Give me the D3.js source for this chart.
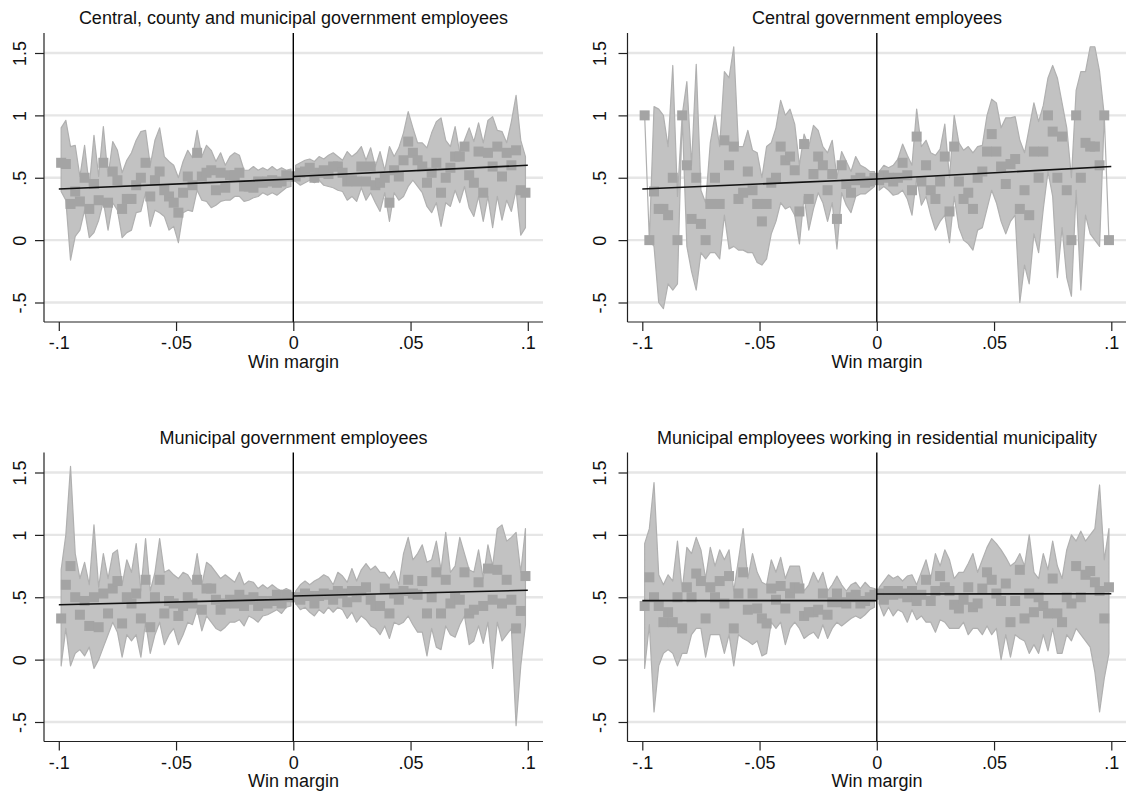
<!DOCTYPE html>
<html><head><meta charset="utf-8">
<script src="https://cdn.jsdelivr.net/npm/d3@7"></script>
<style>body{margin:0;background:#fff}svg{display:block}text{font-family:"Liberation Sans",Arial,sans-serif}</style>
</head><body><svg id="chart" width="1126" height="796"></svg>
<script>
const xTicks = [-0.1, -0.05, 0, 0.05, 0.1];
const xTickLabels = ["-.1", "-.05", "0", ".05", ".1"];
const yTicks = [-0.5, 0, 0.5, 1, 1.5];
const yTickLabels = ["-.5", "0", ".5", "1", "1.5"];
const xTitle = "Win margin";
const titles = [
  "Central, county and municipal government employees",
  "Central government employees",
  "Municipal government employees",
  "Municipal employees working in residential municipality"
];
const binsLeft = [-0.099,-0.097,-0.095,-0.093,-0.091,-0.089,-0.087,-0.085,-0.083,-0.081,-0.079,-0.077,-0.075,-0.073,-0.071,-0.069,-0.067,-0.065,-0.063,-0.061,-0.059,-0.057,-0.055,-0.053,-0.051,-0.049,-0.047,-0.045,-0.043,-0.041,-0.039,-0.037,-0.035,-0.033,-0.031,-0.029,-0.027,-0.025,-0.023,-0.021,-0.019,-0.017,-0.015,-0.013,-0.011,-0.009,-0.007,-0.005,-0.003,-0.001];
const binsRight = [0.001,0.003,0.005,0.007,0.009,0.011,0.013,0.015,0.017,0.019,0.021,0.023,0.025,0.027,0.029,0.031,0.033,0.035,0.037,0.039,0.041,0.043,0.045,0.047,0.049,0.051,0.053,0.055,0.057,0.059,0.061,0.063,0.065,0.067,0.069,0.071,0.073,0.075,0.077,0.079,0.081,0.083,0.085,0.087,0.089,0.091,0.093,0.095,0.097,0.099];
const fitXLeft = [-0.1, 0];
const fitXRight = [0, 0.1];

// Panel 1: Central, county and municipal
const p1MeanL = [0.62,0.61,0.29,0.39,0.31,0.50,0.25,0.45,0.32,0.62,0.30,0.55,0.48,0.25,0.33,0.33,0.44,0.50,0.62,0.35,0.48,0.55,0.40,0.35,0.30,0.22,0.38,0.51,0.44,0.70,0.51,0.54,0.56,0.40,0.54,0.42,0.52,0.52,0.54,0.43,0.43,0.42,0.47,0.46,0.47,0.48,0.46,0.47,0.52,0.51];
const p1HiL = [0.90,0.96,0.75,0.76,0.51,0.76,0.43,0.84,0.51,0.91,0.51,0.79,0.72,0.54,0.64,0.70,0.80,0.87,0.88,0.60,0.80,0.90,0.67,0.63,0.60,0.50,0.63,0.72,0.66,0.88,0.67,0.76,0.72,0.63,0.70,0.60,0.67,0.70,0.68,0.56,0.56,0.59,0.56,0.58,0.56,0.59,0.56,0.58,0.56,0.57];
const p1LoL = [0.39,0.32,-0.16,0.03,0.08,0.24,0.02,0.06,0.16,0.31,0.08,0.30,0.24,0.02,0.06,0.08,0.22,0.23,0.38,0.11,0.24,0.22,0.19,0.08,0.11,-0.02,0.22,0.24,0.23,0.40,0.32,0.31,0.26,0.28,0.31,0.32,0.32,0.35,0.35,0.31,0.32,0.34,0.35,0.38,0.36,0.38,0.36,0.39,0.42,0.43];
const p1MeanR = [0.51,0.54,0.55,0.58,0.50,0.54,0.56,0.53,0.59,0.59,0.54,0.47,0.48,0.47,0.59,0.47,0.59,0.44,0.46,0.50,0.30,0.56,0.51,0.64,0.79,0.70,0.64,0.59,0.46,0.54,0.62,0.38,0.50,0.58,0.67,0.67,0.75,0.52,0.46,0.71,0.38,0.70,0.59,0.75,0.51,0.70,0.60,0.72,0.40,0.38];
const p1HiR = [0.60,0.62,0.64,0.65,0.63,0.67,0.65,0.68,0.70,0.67,0.64,0.71,0.67,0.70,0.75,0.64,0.74,0.59,0.71,0.56,0.75,0.67,0.74,0.86,1.03,0.90,0.78,0.78,0.74,0.86,0.95,0.98,0.80,0.75,0.91,0.70,0.80,0.90,0.79,0.94,0.78,0.96,0.99,0.88,0.87,0.78,0.95,1.16,0.80,0.67];
const p1LoR = [0.47,0.44,0.46,0.48,0.46,0.48,0.44,0.43,0.42,0.40,0.39,0.32,0.35,0.31,0.42,0.32,0.38,0.30,0.23,0.38,0.15,0.38,0.32,0.35,0.43,0.48,0.43,0.38,0.27,0.22,0.30,0.11,0.30,0.27,0.40,0.30,0.43,0.26,0.19,0.35,0.15,0.35,0.10,0.35,0.16,0.32,0.23,0.40,0.04,0.10];
const p1FitL = [0.41, 0.49];
const p1FitR = [0.51, 0.60];

// Panel 2: Central government
const p2MeanL = [1.00,0.00,0.39,0.25,0.25,0.20,0.50,0.00,1.00,0.60,0.17,0.50,0.13,0.00,0.29,0.50,0.29,0.80,0.60,0.75,0.33,0.38,0.55,0.40,0.29,0.15,0.29,0.46,0.50,0.75,0.64,0.67,0.56,0.23,0.77,0.33,0.53,0.67,0.60,0.40,0.53,0.17,0.60,0.45,0.38,0.48,0.50,0.46,0.47,0.50];
const p2HiL = [1.00,0.00,1.07,1.05,1.00,0.75,1.40,0.35,1.00,1.27,0.60,1.41,0.40,0.30,0.78,1.00,0.75,1.35,1.30,1.55,0.75,0.75,0.88,0.72,0.70,0.50,0.75,0.78,0.90,1.12,1.00,1.05,0.93,0.60,0.85,0.75,0.92,0.88,0.75,0.70,0.80,0.50,0.71,0.63,0.55,0.67,0.60,0.58,0.55,0.55];
const p2LoL = [1.00,0.00,-0.05,-0.50,-0.55,-0.35,-0.40,-0.35,1.00,-0.05,-0.25,-0.40,-0.10,-0.15,-0.10,-0.10,-0.15,0.20,-0.07,-0.05,-0.08,-0.08,-0.10,-0.10,-0.18,-0.20,-0.15,0.05,0.15,0.30,0.25,0.27,0.20,-0.03,0.35,0.08,0.25,0.38,0.30,0.15,0.30,-0.07,0.38,0.28,0.22,0.35,0.37,0.37,0.40,0.43];
const p2MeanR = [0.48,0.52,0.50,0.47,0.50,0.62,0.52,0.40,0.83,0.47,0.60,0.40,0.33,0.47,0.67,0.23,0.75,0.47,0.33,0.38,0.25,0.50,0.55,0.71,0.85,0.71,0.59,0.45,0.61,0.65,0.25,0.40,0.20,0.71,0.50,0.71,1.00,0.87,0.50,0.83,0.40,0.00,1.00,0.50,0.78,0.75,0.75,0.60,1.00,0.00];
const p2HiR = [0.55,0.60,0.58,0.60,0.65,0.77,0.68,0.60,1.05,0.75,0.80,0.70,0.68,0.73,0.93,0.50,1.00,0.78,0.72,0.75,0.70,0.75,0.76,1.00,1.13,1.10,0.90,0.98,0.98,0.99,0.80,0.70,0.90,1.10,0.95,1.08,1.30,1.40,1.30,1.10,0.90,0.50,1.20,1.35,1.35,1.55,1.55,1.35,1.00,0.00];
const p2LoR = [0.40,0.43,0.40,0.36,0.37,0.40,0.33,0.20,0.50,0.28,0.35,0.20,0.08,0.15,0.20,-0.02,0.35,0.10,0.00,-0.03,-0.08,0.08,0.10,0.25,0.40,0.30,0.15,0.05,0.15,0.20,-0.50,-0.20,-0.35,0.05,-0.10,0.25,0.55,0.35,-0.30,0.10,-0.30,-0.45,0.40,-0.40,0.20,0.05,0.00,-0.05,1.00,0.00];
const p2FitL = [0.41, 0.49];
const p2FitR = [0.49, 0.59];

// Panel 3: Municipal government
const p3MeanL = [0.33,0.60,0.75,0.50,0.36,0.47,0.27,0.50,0.26,0.53,0.37,0.57,0.63,0.29,0.50,0.45,0.53,0.33,0.64,0.26,0.50,0.64,0.37,0.47,0.45,0.35,0.43,0.50,0.45,0.64,0.40,0.57,0.57,0.48,0.40,0.45,0.48,0.45,0.52,0.43,0.48,0.50,0.43,0.47,0.45,0.47,0.52,0.45,0.52,0.50];
const p3HiL = [0.72,1.00,1.55,0.85,0.65,0.78,0.60,1.08,0.58,0.85,0.65,0.85,0.88,0.60,0.80,0.70,0.93,0.55,0.97,0.55,0.70,0.97,0.70,0.72,0.68,0.65,0.70,0.68,0.62,0.85,0.60,0.78,0.75,0.70,0.65,0.68,0.65,0.62,0.70,0.60,0.63,0.62,0.57,0.60,0.57,0.60,0.57,0.55,0.57,0.55];
const p3LoL = [-0.05,0.25,-0.05,0.05,0.08,0.03,0.10,-0.07,0.00,0.10,0.20,0.30,0.22,0.02,0.20,0.15,0.20,0.02,0.30,0.05,0.20,0.30,0.12,0.20,0.25,0.12,0.20,0.30,0.28,0.40,0.23,0.35,0.30,0.25,0.23,0.26,0.30,0.30,0.32,0.27,0.35,0.33,0.30,0.35,0.36,0.38,0.40,0.37,0.42,0.43];
const p3MeanR = [0.50,0.48,0.53,0.51,0.45,0.51,0.53,0.52,0.48,0.55,0.53,0.46,0.55,0.50,0.55,0.58,0.48,0.43,0.43,0.57,0.37,0.53,0.48,0.55,0.64,0.53,0.52,0.63,0.37,0.50,0.70,0.37,0.64,0.45,0.50,0.48,0.70,0.37,0.40,0.62,0.43,0.73,0.48,0.72,0.45,0.64,0.48,0.25,0.39,0.67];
const p3HiR = [0.55,0.60,0.63,0.60,0.63,0.65,0.68,0.66,0.60,0.70,0.67,0.62,0.73,0.63,0.72,0.77,0.72,0.75,0.70,0.70,0.65,0.71,0.60,0.85,0.98,0.80,0.85,0.92,0.78,0.80,0.95,0.72,1.02,0.70,0.75,0.98,0.85,0.72,0.70,0.88,0.65,0.92,0.75,1.05,1.08,0.95,0.98,1.02,0.70,1.05];
const p3LoR = [0.45,0.40,0.42,0.38,0.35,0.40,0.37,0.42,0.38,0.42,0.40,0.33,0.38,0.30,0.35,0.32,0.27,0.25,0.20,0.27,0.17,0.30,0.28,0.30,0.35,0.28,0.22,0.22,0.03,0.25,0.10,0.08,0.27,0.20,0.18,0.28,0.35,0.12,0.15,0.27,0.13,0.30,-0.07,0.30,0.15,0.20,0.25,-0.53,-0.05,0.28];
const p3FitL = [0.44, 0.484];
const p3FitR = [0.51, 0.556];

// Panel 4: Municipal employees in residential municipality
const p4MeanL = [0.43,0.66,0.50,0.43,0.30,0.38,0.30,0.50,0.25,0.58,0.50,0.69,0.63,0.33,0.58,0.50,0.63,0.45,0.67,0.25,0.53,0.70,0.40,0.53,0.41,0.33,0.29,0.57,0.48,0.59,0.41,0.53,0.58,0.57,0.35,0.38,0.38,0.40,0.53,0.36,0.46,0.53,0.46,0.45,0.50,0.52,0.45,0.47,0.50,0.52];
const p4HiL = [0.93,1.05,1.42,0.68,0.60,0.68,0.63,0.95,0.55,0.90,0.85,0.98,0.88,0.65,0.90,0.75,0.88,0.80,0.88,0.55,0.80,1.05,0.65,0.85,0.70,0.62,0.60,0.80,0.70,0.82,0.65,0.75,0.75,0.75,0.55,0.60,0.70,0.62,0.70,0.55,0.60,0.67,0.60,0.55,0.60,0.62,0.57,0.62,0.58,0.57];
const p4LoL = [-0.07,0.28,-0.42,-0.05,0.05,0.08,0.05,-0.05,0.05,0.05,0.20,0.25,0.25,0.02,0.20,0.20,0.20,0.05,0.20,-0.05,0.20,0.17,0.15,0.12,0.15,0.03,0.05,0.30,0.25,0.30,0.12,0.25,0.30,0.25,0.17,0.20,0.22,0.17,0.28,0.17,0.25,0.30,0.27,0.30,0.33,0.35,0.33,0.36,0.40,0.42];
const p4MeanR = [0.53,0.48,0.55,0.52,0.55,0.53,0.50,0.55,0.47,0.52,0.64,0.47,0.55,0.67,0.58,0.55,0.44,0.41,0.48,0.58,0.42,0.45,0.57,0.70,0.64,0.53,0.47,0.61,0.30,0.47,0.72,0.33,0.53,0.38,0.50,0.43,0.37,0.65,0.37,0.30,0.50,0.45,0.75,0.50,0.68,0.71,0.62,0.55,0.33,0.58];
const p4HiR = [0.58,0.63,0.68,0.65,0.67,0.63,0.67,0.68,0.60,0.70,0.80,0.65,0.85,0.75,0.88,0.80,0.65,0.70,0.70,0.77,0.85,0.70,0.80,0.90,0.97,0.93,0.88,0.82,0.75,0.78,0.85,0.75,1.00,0.70,0.65,0.85,0.72,0.95,0.75,0.65,0.88,1.00,0.95,1.03,0.95,1.00,1.05,1.40,0.80,1.05];
const p4LoR = [0.45,0.35,0.42,0.35,0.40,0.38,0.30,0.40,0.32,0.35,0.30,0.30,0.22,0.32,0.30,0.25,0.25,0.25,0.30,0.20,0.25,0.25,0.20,0.27,0.20,0.25,0.00,0.20,0.02,0.20,0.17,0.15,0.05,0.12,0.05,0.20,0.07,0.25,0.05,0.05,0.20,0.15,0.25,0.20,0.15,0.10,-0.10,-0.42,-0.15,0.05];
const p4FitL = [0.473, 0.473];
const p4FitR = [0.526, 0.528];

const panels = [
  {title: titles[0], left: 44, top: 33, lab: -18.5, mL: p1MeanL, hL: p1HiL, lL: p1LoL, mR: p1MeanR, hR: p1HiR, lR: p1LoR, fL: p1FitL, fR: p1FitR},
  {title: titles[1], left: 627.5, top: 33, lab: -21.5, mL: p2MeanL, hL: p2HiL, lL: p2LoL, mR: p2MeanR, hR: p2HiR, lR: p2LoR, fL: p2FitL, fR: p2FitR},
  {title: titles[2], left: 44, top: 452.5, lab: -18.5, mL: p3MeanL, hL: p3HiL, lL: p3LoL, mR: p3MeanR, hR: p3HiR, lR: p3LoR, fL: p3FitL, fR: p3FitR},
  {title: titles[3], left: 627.5, top: 452.5, lab: -21.5, mL: p4MeanL, hL: p4HiL, lL: p4LoL, mR: p4MeanR, hR: p4HiR, lR: p4LoR, fL: p4FitL, fR: p4FitR}
];

const svg = d3.select("#chart");
const W = 499, H = 289;
const TEXT = "#111";
const AXIS = "#222";

function drawPanel(p) {
  const g = svg.append("g");
  const x = d3.scaleLinear().domain([-0.1, 0.1]).range([p.left + 14.8, p.left + 483.8]);
  const y = d3.scaleLinear().domain([-0.5, 1.5]).range([p.top + 269.5, p.top + 20]);

  g.append("g").selectAll("line").data(yTicks).join("line")
    .attr("x1", p.left).attr("x2", p.left + W)
    .attr("y1", d => y(d)).attr("y2", d => y(d))
    .attr("stroke", "#e6e6e6").attr("stroke-width", 2.4);

  const sides = [
    {bins: binsLeft, m: p.mL, h: p.hL, l: p.lL, fx: fitXLeft, f: p.fL},
    {bins: binsRight, m: p.mR, h: p.hR, l: p.lR, fx: fitXRight, f: p.fR}
  ];
  const area = d3.area().x(d => x(d.x)).y0(d => y(d.lo)).y1(d => y(d.hi));
  sides.forEach(s => {
    const rows = s.bins.map((b, i) => ({x: b, m: s.m[i], hi: s.h[i], lo: s.l[i]}));
    g.append("path").datum(rows).attr("d", area)
      .attr("fill", "#c2c2c2").attr("stroke", "#b0b0b0").attr("stroke-width", 1.2)
      .attr("stroke-linejoin", "round");
    s.rows = rows;
  });
  sides.forEach(s => {
    g.append("g").selectAll("rect").data(s.rows).join("rect")
      .attr("x", d => x(d.x) - 5).attr("y", d => y(d.m) - 5)
      .attr("width", 10).attr("height", 10)
      .attr("fill", "#a4a4a4");
  });
  sides.forEach(s => {
    const pts = s.fx.map((v, i) => [v, s.f[i]]);
    g.append("path").datum(pts)
      .attr("d", d3.line().x(d => x(d[0])).y(d => y(d[1])))
      .attr("stroke", "#111").attr("stroke-width", 1.6).attr("fill", "none");
  });
  g.append("line").attr("x1", x(0)).attr("x2", x(0))
    .attr("y1", p.top).attr("y2", p.top + H)
    .attr("stroke", "#000").attr("stroke-width", 1.4);

  // axes
  const xa = g.append("g").attr("transform", `translate(0,${p.top + H})`)
    .call(d3.axisBottom(x).tickValues(xTicks).tickFormat((d, i) => xTickLabels[i]).tickSize(9).tickPadding(5.5));
  xa.select(".domain").remove();
  xa.selectAll("line").attr("stroke", AXIS).attr("stroke-width", 1.2);
  xa.selectAll("text").attr("font-size", 18).attr("fill", TEXT).attr("font-family", null);

  const ya = g.append("g").attr("transform", `translate(${p.left},0)`)
    .call(d3.axisLeft(y).tickValues(yTicks).tickFormat((d, i) => yTickLabels[i]).tickSize(9));
  ya.select(".domain").remove();
  ya.selectAll("line").attr("stroke", AXIS).attr("stroke-width", 1.2);
  ya.selectAll("text").attr("font-size", 18).attr("fill", TEXT).attr("font-family", null)
    .attr("x", null).attr("dy", null).attr("text-anchor", "middle")
    .attr("transform", `translate(${p.lab},0) rotate(-90)`);

  g.append("line").attr("x1", p.left).attr("x2", p.left).attr("y1", p.top).attr("y2", p.top + H)
    .attr("stroke", AXIS).attr("stroke-width", 1.2);
  g.append("line").attr("x1", p.left).attr("x2", p.left + W).attr("y1", p.top + H).attr("y2", p.top + H)
    .attr("stroke", AXIS).attr("stroke-width", 1.2);

  g.append("text").attr("x", p.left + W / 2).attr("y", p.top + H + 45.5)
    .attr("text-anchor", "middle").attr("font-size", 18).attr("fill", TEXT).text(xTitle);
  g.append("text").attr("x", p.left + W / 2).attr("y", p.top - 9)
    .attr("text-anchor", "middle").attr("font-size", 18).attr("fill", TEXT).text(p.title);
}
panels.forEach(drawPanel);
</script></body></html>
